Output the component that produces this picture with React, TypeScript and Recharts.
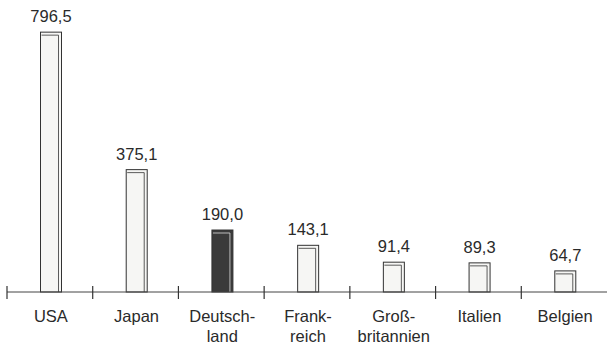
import React from "react";
import { BarChart, Bar, XAxis, YAxis, LabelList } from "recharts";

const countries = ["USA", "Japan", "Deutsch-\nland", "Frank-\nreich", "Groß-\nbritannien", "Italien", "Belgien"];
const values = [796.5, 375.1, 190.0, 143.1, 91.4, 89.3, 64.7];
const highlighted = [false, false, true, false, false, false, false];

const data = countries.map((c, i) => ({ name: c, value: values[i], hl: highlighted[i] }));

const W = 607;
const H = 344;
const ML = 7;
const MR = 0;
const BAND = (W - ML - MR) / countries.length;
const FONT = "'Liberation Sans', Arial, Helvetica, sans-serif";

const BarShape = (props: any) => {
  const { x, y, width, height, payload } = props;
  const fill = payload.hl ? "#3a3a3a" : "#f6f6f4";
  const s = "#333";
  return (
    <g>
      <rect x={x + 1.5} y={y} width={width} height={height} fill={fill} stroke={s} strokeWidth={1} />
      <line x1={x + width - 1.5} y1={y + 3} x2={x + width - 1.5} y2={y + height} stroke={payload.hl ? "#ddd" : s} strokeWidth={0.8} />
      <line x1={x + 2.5} y1={y + 3} x2={x + width - 1.5} y2={y + 3} stroke={payload.hl ? "#ddd" : s} strokeWidth={0.8} />
    </g>
  );
};

const Tick = (props: any) => {
  const { x, y, payload } = props;
  const lines = String(payload.value).split("\n");
  const axisY = y - 8;
  return (
    <g>
      <line x1={x - BAND / 2} y1={axisY - 6} x2={x - BAND / 2} y2={axisY + 7} stroke="#333" strokeWidth={1.2} />
      {lines.map((l, i) => (
        <text key={i} x={x + 1} y={axisY + 30 + i * 20} textAnchor="middle" fontSize={16.5} fill="#2a2a2a" fontFamily={FONT}>
          {l}
        </text>
      ))}
    </g>
  );
};

const fmt = (v: any) => Number(v).toFixed(1).replace(".", ",");

const ValueLabel = (props: any) => {
  const { x, y, width, value } = props;
  return (
    <text x={x + width / 2 + 1.5} y={y - 10} textAnchor="middle" fontSize={16.5} fill="#2a2a2a" fontFamily={FONT}>
      {fmt(value)}
    </text>
  );
};

export default function App() {
  return (
    <div style={{ position: "absolute", left: 0, top: 0, width: W, height: H, background: "#fff" }}>
      <BarChart width={W} height={H} data={data} margin={{ top: 31, right: MR, left: ML, bottom: 0 }} barCategoryGap={0}>
        <XAxis
          dataKey="name"
          interval={0}
          tickLine={false}
          tickSize={0}
          tickMargin={8}
          height={52}
          tick={<Tick />}
          axisLine={{ stroke: "#444", strokeWidth: 1 }}
        />
        <YAxis hide domain={[0, 800]} />
        <Bar dataKey="value" barSize={21} shape={<BarShape />} isAnimationActive={false}>
          <LabelList dataKey="value" content={<ValueLabel />} />
        </Bar>
      </BarChart>
    </div>
  );
}
